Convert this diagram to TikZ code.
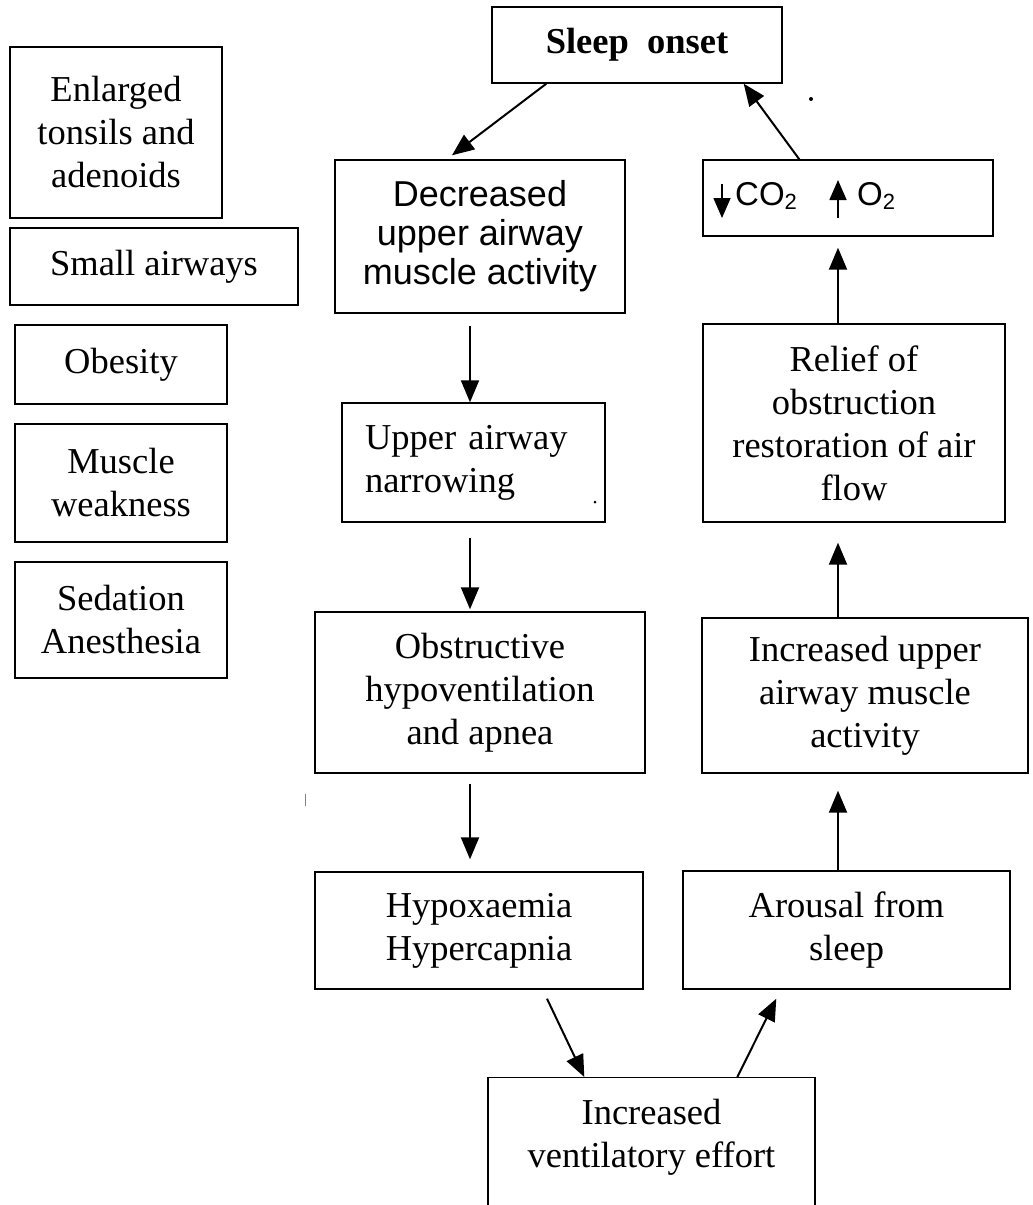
\documentclass[tikz,border=0pt]{standalone}
\usepackage{fontspec}
\setmainfont{Liberation Serif}
\newfontfamily\arialf{Liberation Sans}
\usetikzlibrary{arrows.meta,calc}
\newcommand\serifsz{\fontsize{36.5}{43}\selectfont}
\newcommand\sanssz{\arialf\fontsize{36}{39}\selectfont}
\newcommand\gassz{\arialf\fontsize{33}{36}\selectfont}
\newcommand\subtwo{\raisebox{-4pt}{\fontsize{22}{22}\selectfont 2}}
\begin{document}
\begin{tikzpicture}[x=1pt,y=-1pt,
  box/.style={draw, line width=1.4pt, inner sep=0pt, align=center, font=\serifsz},
  arr/.style={line width=2pt, -{Triangle[length=22pt,width=18pt]}},
  smallarr/.style={line width=1.6pt, -{Triangle[length=20pt,width=17pt]}},
  txt/.style={inner sep=0pt, align=center, font=\serifsz}]
\fill[white] (0,0) rectangle (1033,1205);
\clip (0,0) rectangle (1033,1205);
% left column
\node[box, minimum width=212pt, minimum height=171pt] (enl) at (116,132.5) {Enlarged\\tonsils and\\adenoids};
\node[box, minimum width=288pt, minimum height=77pt] (small) at (154,266.5) {Small airways};
\node[box, minimum width=212pt, minimum height=79pt] (obes) at (121,364.5) {Obesity};
\node[box, minimum width=212pt, minimum height=118pt] (musc) at (121,483) {Muscle\\weakness};
\node[box, minimum width=212pt, minimum height=116pt] (sed) at (121,620) {Sedation\\Anesthesia};
% cycle
\node[box, minimum width=290pt, minimum height=76pt, font=\serifsz\bfseries] (sleep) at (637,45) {Sleep\ \ onset};
\node[box, minimum width=290pt, minimum height=153pt, font=\sanssz] (dec) at (480,236.5) {Decreased\\upper airway\\muscle activity};
\node[box, minimum width=263pt, minimum height=119pt, align=left, text width=217pt, inner xsep=23pt] (nar) at (473.5,462.5) {Upper airway\\narrowing};
\node[box, minimum width=330pt, minimum height=161pt] (obs) at (480,692.5) {Obstructive\\hypoventilation\\and apnea};
\node[box, minimum width=328pt, minimum height=117pt] (hyp) at (479,930.5) {Hypoxaemia\\Hypercapnia};
\node[box, minimum width=327pt, minimum height=200pt, anchor=north] (vent) at (651.5,1077) {};
\node[txt] (venttxt) at (651.5,1137) {Increased\\ventilatory effort};
\node[box, minimum width=327pt, minimum height=118pt] (aro) at (846.5,930) {Arousal from\\sleep};
\node[box, minimum width=326pt, minimum height=155pt] (inc) at (865,695.5) {Increased upper\\airway muscle\\activity};
\node[box, minimum width=302pt, minimum height=198pt] (rel) at (854,423) {Relief of\\obstruction\\restoration of air\\flow};
\node[box, minimum width=290pt, minimum height=76pt] (co2) at (848,198) {};
\node[inner sep=0pt, anchor=base west, font=\gassz] (co2t) at (735,205) {CO\subtwo};
\node[inner sep=0pt, anchor=base west, font=\gassz] (o2t) at (857,205) {O\subtwo};
\draw[smallarr] (722,184) -- (722,218);
\draw[smallarr] (838,218) -- (838,180);
% columns for vertical arrows
\coordinate (lx) at (470,0);
\coordinate (rx) at (838,0);
% connectors
\draw[arr] ($(sleep.south west)+(55,0)$) -- ($(dec.north)+(-28,-4)$);
\draw[arr, shorten <=12pt] (dec.south -| lx) -- (nar.north -| lx);
\draw[arr, shorten <=15pt, shorten >=2pt] (nar.south -| lx) -- (obs.north -| lx);
\draw[arr, shorten <=10pt, shorten >=12pt] (obs.south -| lx) -- (hyp.north -| lx);
\draw[arr] ($(hyp.south)+(68,9)$) -- ($(vent.north west)+(97,0)$);
\draw[arr] ($(vent.north west)+(250,0)$) -- ($(aro.south west)+(94,9)$);
\draw[arr, shorten >=17pt] (aro.north -| rx) -- (inc.south -| rx);
\draw[arr, shorten >=20pt] (inc.north -| rx) -- (rel.south -| rx);
\draw[arr, shorten >=11pt] (rel.north -| rx) -- (co2.south -| rx);
\draw[arr] ($(co2.north west)+(97,0)$) -- ($(sleep.south east)+(-39,0)$);
% scan specks
\fill (811,99) circle (2pt);
\fill (595,502) circle (1.5pt);
\draw[line width=1pt, gray] (305,794) -- (305,806);
\end{tikzpicture}
\end{document}
